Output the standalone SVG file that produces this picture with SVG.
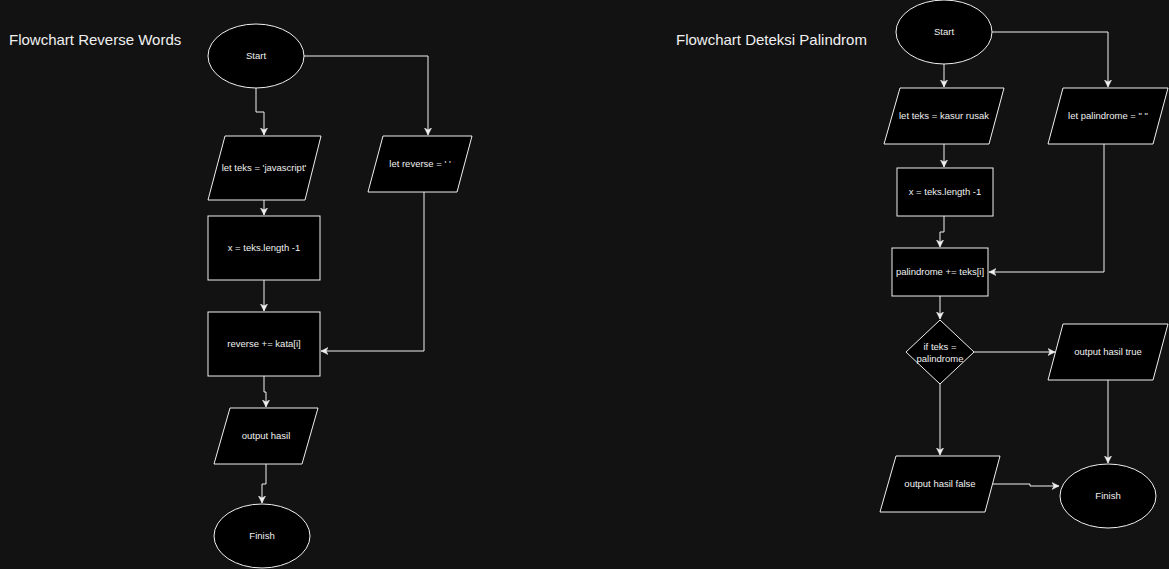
<svg xmlns="http://www.w3.org/2000/svg" width="1169" height="569" viewBox="0 0 1169 569">
<style>
.s{fill:#000000;stroke:#f0f0f0;stroke-width:1}
.t{font-family:"Liberation Sans",Arial,sans-serif;font-size:9.5px;fill:#f0f0f0;text-anchor:middle}
.h{font-family:"Liberation Sans",Arial,sans-serif;font-size:15px;fill:#f0f0f0}
.c{fill:none;stroke:#f0f0f0;stroke-width:1}
</style>
<defs>
<marker id="a" viewBox="0 0 8 8" refX="7" refY="4" markerWidth="8" markerHeight="8" markerUnits="userSpaceOnUse" orient="auto">
<path d="M0,0.5 L7,4 L0,7.5 L2,4 z" fill="#f0f0f0" stroke="#f0f0f0" stroke-width="0.5"/>
</marker>
</defs>
<rect width="1169" height="569" fill="#121212"/>
<text class="h" x="9" y="45">Flowchart Reverse Words</text>
<text class="h" x="676" y="45">Flowchart Deteksi Palindrom</text>
<g id="connectors">
<path class="c" d="M256,88 V112 H264 V135" marker-end="url(#a)"/>
<path class="c" d="M304,56 H428 V135" marker-end="url(#a)"/>
<path class="c" d="M264,200 V215" marker-end="url(#a)"/>
<path class="c" d="M264,280 V311" marker-end="url(#a)"/>
<path class="c" d="M424,192 V351 H321" marker-end="url(#a)"/>
<path class="c" d="M264,376 V392 H266 V407" marker-end="url(#a)"/>
<path class="c" d="M266,464 V484 H262 V503" marker-end="url(#a)"/>
<path class="c" d="M944,64 V87" marker-end="url(#a)"/>
<path class="c" d="M992,32 H1108 V87" marker-end="url(#a)"/>
<path class="c" d="M944,144 V167" marker-end="url(#a)"/>
<path class="c" d="M944,216 V232 H940 V247" marker-end="url(#a)"/>
<path class="c" d="M1104,144 V272 H989" marker-end="url(#a)"/>
<path class="c" d="M940,296 V319" marker-end="url(#a)"/>
<path class="c" d="M974,352 H1055" marker-end="url(#a)"/>
<path class="c" d="M940,384 V455" marker-end="url(#a)"/>
<path class="c" d="M1108,380 V463" marker-end="url(#a)"/>
<path class="c" d="M993,484 H1030 V486 H1059" marker-end="url(#a)"/>
</g>
<g id="start1"><ellipse class="s" cx="256" cy="56" rx="48" ry="32"/><text class="t" x="256" y="59">Start</text></g>
<g id="letteks1"><polygon class="s" points="225,136 321,136 305,200 208,200"/><text class="t" x="264" y="171">let teks = 'javascript'</text></g>
<g id="letreverse"><polygon class="s" points="383,136 472,136 457,192 368,192"/><text class="t" x="420" y="167">let reverse = ' '</text></g>
<g id="xlen1"><rect class="s" x="208" y="216" width="112" height="64"/><text class="t" x="264" y="251">x = teks.length -1</text></g>
<g id="revadd"><rect class="s" x="208" y="312" width="112" height="64"/><text class="t" x="264" y="347">reverse += kata[i]</text></g>
<g id="output1"><polygon class="s" points="230,408 318,408 302,464 214,464"/><text class="t" x="266" y="439">output hasil</text></g>
<g id="finish1"><ellipse class="s" cx="262" cy="536" rx="48" ry="32"/><text class="t" x="262" y="539">Finish</text></g>
<g id="start2"><ellipse class="s" cx="944" cy="32" rx="48" ry="32"/><text class="t" x="944" y="35">Start</text></g>
<g id="letteks2"><polygon class="s" points="900,88 1004,88 989,144 884,144"/><text class="t" x="944" y="119">let teks = kasur rusak</text></g>
<g id="letpal"><polygon class="s" points="1063,88 1168,88 1153,144 1048,144"/><text class="t" x="1108" y="119">let palindrome = " "</text></g>
<g id="xlen2"><rect class="s" x="897" y="168" width="96" height="48"/><text class="t" x="945" y="195">x = teks.length -1</text></g>
<g id="paladd"><rect class="s" x="892" y="248" width="96" height="48"/><text class="t" x="940" y="275">palindrome += teks[i]</text></g>
<g id="decision"><polygon class="s" points="940,320 974,352 940,384 906,352"/><text class="t" x="940" y="350">if teks =</text><text class="t" x="940" y="362">palindrome</text></g>
<g id="outtrue"><polygon class="s" points="1063,324 1168,324 1153,380 1048,380"/><text class="t" x="1108" y="355">output hasil true</text></g>
<g id="outfalse"><polygon class="s" points="896,456 1000,456 985,512 880,512"/><text class="t" x="940" y="487">output hasil false</text></g>
<g id="finish2"><ellipse class="s" cx="1108" cy="496" rx="48" ry="32"/><text class="t" x="1108" y="499">Finish</text></g>
</svg>
